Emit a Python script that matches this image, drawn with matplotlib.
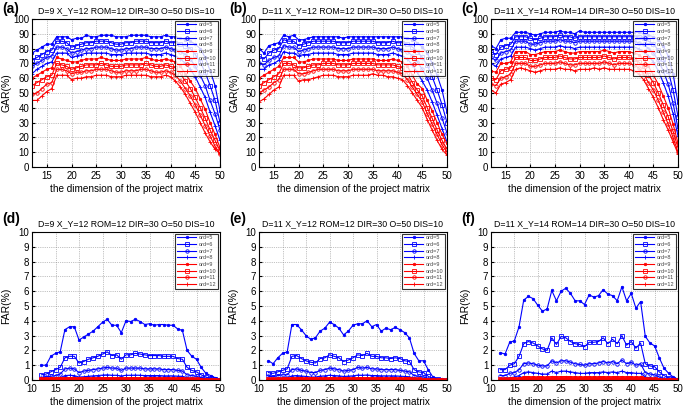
import numpy as np
import matplotlib
matplotlib.use("Agg")
import matplotlib.pyplot as plt

plt.rcParams["font.family"] = ["Liberation Sans", "DejaVu Sans"]

# x positions: dimension of the project matrix
dims = list(range(12, 51))
ords = ["ord=5", "ord=6", "ord=7", "ord=8", "ord=9", "ord=10", "ord=11", "ord=12"]

titles = [
    "D=9 X_Y=12 ROM=12 DIR=30 O=50 DIS=10",
    "D=11 X_Y=12 ROM=12 DIR=30 O=50 DIS=10",
    "D=11 X_Y=14 ROM=14 DIR=30 O=50 DIS=10",
]
panel_tags = ["(a)", "(b)", "(c)", "(d)", "(e)", "(f)"]

# ---- GAR (%) values, one list per ord ----
gar_a = [
    [77, 79, 81, 83, 83, 88, 88, 88, 86, 87, 87, 89, 88, 88, 89, 89, 89, 88, 88, 88, 89, 89, 89, 89, 88, 88, 88, 89, 88, 88, 87, 86, 85, 83, 80, 74, 65, 55, 38],
    [72, 74, 76, 78, 79, 85, 85, 84, 81, 82, 83, 84, 84, 85, 85, 85, 84, 83, 83, 84, 84, 85, 85, 85, 84, 84, 84, 85, 84, 84, 83, 82, 80, 76, 71, 64, 55, 45, 30],
    [68, 70, 72, 74, 75, 81, 81, 80, 77, 78, 79, 80, 80, 81, 81, 81, 80, 79, 79, 80, 80, 81, 81, 81, 80, 80, 80, 81, 80, 79, 78, 76, 73, 68, 62, 55, 45, 36, 25],
    [63, 66, 68, 70, 71, 77, 77, 77, 74, 75, 76, 77, 77, 77, 77, 77, 76, 76, 76, 77, 77, 77, 77, 77, 76, 76, 76, 77, 76, 75, 73, 70, 66, 61, 54, 47, 37, 28, 18],
    [60, 62, 64, 66, 67, 74, 73, 72, 71, 71, 72, 73, 73, 73, 74, 73, 72, 72, 72, 73, 73, 73, 73, 74, 73, 72, 72, 73, 72, 71, 68, 63, 58, 53, 46, 39, 30, 22, 13],
    [55, 57, 59, 61, 62, 70, 69, 68, 66, 67, 68, 69, 69, 69, 70, 69, 68, 68, 68, 69, 69, 69, 69, 70, 69, 68, 68, 69, 68, 67, 63, 58, 53, 47, 40, 33, 25, 18, 11],
    [49, 50, 53, 56, 57, 66, 66, 65, 63, 64, 64, 65, 65, 66, 66, 66, 65, 64, 64, 65, 65, 65, 66, 66, 65, 64, 64, 65, 64, 62, 58, 53, 48, 42, 35, 28, 21, 14, 9],
    [45, 45, 48, 51, 53, 62, 62, 62, 59, 60, 60, 61, 61, 62, 62, 62, 61, 61, 61, 62, 62, 62, 62, 62, 61, 61, 61, 62, 61, 58, 54, 49, 43, 37, 30, 23, 17, 12, 9],
]
gar_b = [
    [80, 77, 82, 83, 84, 89, 88, 89, 86, 86, 87, 88, 88, 88, 88, 88, 88, 87, 88, 88, 88, 88, 88, 88, 88, 88, 88, 88, 88, 88, 87, 86, 84, 81, 77, 70, 62, 52, 37],
    [75, 73, 77, 79, 80, 86, 85, 85, 82, 83, 84, 85, 85, 85, 85, 85, 84, 84, 84, 85, 85, 85, 85, 85, 84, 84, 84, 85, 84, 84, 83, 81, 78, 74, 69, 61, 52, 42, 30],
    [70, 69, 72, 74, 75, 82, 81, 81, 78, 79, 80, 81, 81, 81, 81, 81, 80, 80, 80, 81, 81, 81, 81, 81, 80, 80, 80, 81, 80, 79, 78, 75, 71, 66, 60, 52, 43, 33, 23],
    [66, 66, 69, 70, 72, 78, 77, 77, 75, 76, 76, 77, 77, 77, 77, 77, 76, 76, 76, 77, 77, 77, 77, 77, 76, 76, 76, 77, 76, 75, 73, 69, 64, 58, 52, 44, 35, 26, 17],
    [60, 62, 64, 66, 68, 74, 74, 74, 71, 71, 72, 73, 73, 73, 73, 73, 72, 72, 72, 73, 73, 73, 73, 73, 72, 72, 72, 73, 72, 71, 68, 62, 56, 53, 45, 38, 30, 22, 16],
    [55, 57, 59, 61, 63, 70, 70, 69, 67, 67, 68, 69, 69, 70, 70, 70, 69, 69, 69, 70, 70, 70, 70, 70, 69, 69, 69, 69, 68, 67, 63, 57, 52, 48, 40, 33, 25, 18, 12],
    [50, 52, 54, 57, 59, 66, 66, 66, 63, 63, 64, 65, 66, 66, 66, 66, 65, 65, 65, 66, 66, 66, 66, 66, 65, 65, 65, 65, 64, 63, 59, 54, 49, 44, 36, 29, 22, 15, 10],
    [44, 46, 49, 52, 54, 62, 62, 62, 58, 59, 59, 60, 61, 62, 62, 62, 61, 61, 61, 62, 62, 62, 62, 63, 62, 62, 61, 61, 60, 59, 55, 50, 45, 40, 32, 25, 18, 12, 8],
]
gar_c = [
    [82, 80, 86, 87, 87, 91, 91, 91, 90, 89, 90, 91, 91, 91, 92, 91, 91, 90, 92, 91, 91, 91, 91, 91, 91, 91, 91, 91, 91, 91, 91, 90, 89, 88, 86, 82, 75, 63, 43],
    [78, 76, 81, 82, 83, 88, 88, 88, 87, 86, 87, 88, 88, 88, 89, 88, 88, 87, 88, 88, 88, 88, 88, 88, 88, 88, 88, 88, 88, 88, 88, 87, 85, 83, 79, 73, 65, 52, 34],
    [74, 72, 77, 78, 79, 85, 85, 85, 83, 83, 84, 85, 85, 85, 86, 85, 85, 84, 85, 85, 85, 85, 85, 85, 85, 85, 85, 85, 85, 85, 84, 83, 80, 77, 72, 65, 56, 43, 26],
    [70, 68, 73, 74, 75, 81, 81, 81, 80, 79, 80, 81, 81, 81, 82, 81, 81, 80, 81, 81, 81, 81, 81, 81, 81, 81, 81, 81, 81, 81, 80, 78, 75, 71, 65, 57, 48, 36, 21],
    [65, 64, 70, 70, 71, 78, 78, 78, 76, 76, 77, 78, 78, 78, 79, 78, 77, 77, 78, 78, 78, 78, 78, 79, 78, 77, 78, 78, 78, 77, 76, 73, 68, 62, 56, 48, 40, 29, 16],
    [60, 59, 65, 66, 67, 74, 74, 74, 72, 72, 73, 74, 74, 74, 75, 74, 73, 73, 74, 74, 74, 74, 74, 75, 74, 73, 74, 74, 74, 73, 71, 68, 62, 57, 50, 42, 34, 24, 13],
    [56, 55, 60, 61, 63, 70, 70, 70, 68, 68, 69, 70, 70, 70, 71, 70, 69, 69, 70, 70, 70, 70, 70, 71, 70, 69, 70, 70, 70, 69, 67, 63, 57, 52, 45, 37, 29, 20, 10],
    [52, 50, 56, 57, 59, 66, 67, 66, 65, 64, 65, 66, 66, 66, 67, 66, 66, 65, 66, 66, 66, 67, 66, 67, 66, 66, 66, 66, 66, 65, 63, 59, 53, 47, 40, 32, 25, 17, 9],
]

# ---- FAR (%) values, one list per ord ----
far_d = [
    [1.0, 1.0, 1.6, 1.8, 1.9, 3.4, 3.6, 3.6, 2.7, 2.9, 3.1, 3.3, 3.6, 3.9, 4.1, 3.7, 3.7, 3.2, 4.0, 3.95, 4.1, 3.95, 3.75, 3.8, 3.7, 3.75, 3.75, 3.7, 3.7, 3.45, 3.35, 2.0, 1.6, 1.4, 0.85, 0.45, 0.3, 0.15, 0.05],
    [0.35, 0.4, 0.55, 0.7, 0.85, 1.5, 1.6, 1.6, 1.15, 1.25, 1.4, 1.5, 1.6, 1.75, 1.9, 1.65, 1.7, 1.4, 1.7, 1.7, 1.8, 1.75, 1.7, 1.65, 1.65, 1.65, 1.6, 1.6, 1.6, 1.45, 1.4, 0.85, 0.65, 0.55, 0.35, 0.2, 0.12, 0.07, 0.02],
    [0.15, 0.2, 0.25, 0.3, 0.4, 0.75, 0.8, 0.75, 0.5, 0.6, 0.65, 0.7, 0.75, 0.8, 0.85, 0.8, 0.8, 0.65, 0.8, 0.8, 0.8, 0.8, 0.75, 0.75, 0.75, 0.75, 0.7, 0.7, 0.7, 0.65, 0.6, 0.35, 0.3, 0.25, 0.15, 0.1, 0.05, 0.03, 0.01],
    [0.07, 0.08, 0.1, 0.12, 0.15, 0.3, 0.32, 0.3, 0.2, 0.22, 0.25, 0.28, 0.3, 0.33, 0.35, 0.32, 0.32, 0.27, 0.32, 0.32, 0.33, 0.32, 0.3, 0.3, 0.3, 0.3, 0.28, 0.28, 0.28, 0.26, 0.25, 0.14, 0.12, 0.1, 0.06, 0.04, 0.02, 0.01, 0.0],
    [0.1, 0.1, 0.11, 0.12, 0.13, 0.16, 0.16, 0.16, 0.13, 0.14, 0.14, 0.15, 0.15, 0.16, 0.16, 0.15, 0.15, 0.14, 0.15, 0.15, 0.16, 0.15, 0.15, 0.15, 0.15, 0.15, 0.14, 0.14, 0.14, 0.13, 0.13, 0.08, 0.07, 0.06, 0.04, 0.03, 0.02, 0.01, 0.0],
    [0.06, 0.06, 0.07, 0.07, 0.08, 0.1, 0.1, 0.1, 0.08, 0.09, 0.09, 0.09, 0.1, 0.1, 0.1, 0.1, 0.1, 0.09, 0.1, 0.1, 0.1, 0.1, 0.09, 0.09, 0.09, 0.09, 0.09, 0.09, 0.09, 0.08, 0.08, 0.05, 0.04, 0.04, 0.03, 0.02, 0.01, 0.01, 0.0],
    [0.04, 0.04, 0.04, 0.05, 0.05, 0.07, 0.07, 0.07, 0.05, 0.06, 0.06, 0.06, 0.06, 0.07, 0.07, 0.06, 0.06, 0.06, 0.06, 0.06, 0.07, 0.06, 0.06, 0.06, 0.06, 0.06, 0.06, 0.06, 0.06, 0.05, 0.05, 0.03, 0.03, 0.02, 0.02, 0.01, 0.01, 0.0, 0.0],
    [0.02, 0.02, 0.03, 0.03, 0.03, 0.04, 0.04, 0.04, 0.03, 0.03, 0.03, 0.04, 0.04, 0.04, 0.04, 0.04, 0.04, 0.03, 0.04, 0.04, 0.04, 0.04, 0.04, 0.04, 0.04, 0.04, 0.03, 0.03, 0.03, 0.03, 0.03, 0.02, 0.02, 0.01, 0.01, 0.01, 0.0, 0.0, 0.0],
]
far_e = [
    [1.3, 1.1, 1.5, 1.8, 1.9, 3.75, 3.75, 3.4, 3.0, 2.75, 2.85, 3.3, 3.5, 3.9, 3.75, 3.5, 3.05, 3.3, 3.7, 3.8, 3.8, 4.0, 3.6, 3.75, 3.3, 3.5, 3.4, 3.55, 3.4, 3.2, 2.85, 1.8, 1.3, 1.3, 0.7, 0.2, 0.1, 0.05, 0.02],
    [0.5, 0.45, 0.55, 0.65, 0.75, 1.6, 1.65, 1.45, 1.3, 1.2, 1.15, 1.45, 1.5, 1.7, 1.6, 1.5, 1.25, 1.35, 1.5, 1.7, 1.65, 1.8, 1.6, 1.6, 1.5, 1.5, 1.45, 1.5, 1.45, 1.3, 1.25, 0.7, 0.55, 0.5, 0.25, 0.1, 0.05, 0.02, 0.01],
    [0.25, 0.22, 0.3, 0.35, 0.35, 0.7, 0.75, 0.65, 0.6, 0.5, 0.5, 0.65, 0.7, 0.8, 0.75, 0.7, 0.6, 0.65, 0.7, 0.85, 0.8, 0.85, 0.75, 0.75, 0.7, 0.7, 0.7, 0.7, 0.65, 0.6, 0.55, 0.3, 0.25, 0.2, 0.1, 0.05, 0.02, 0.01, 0.0],
    [0.1, 0.09, 0.12, 0.14, 0.15, 0.28, 0.3, 0.27, 0.24, 0.2, 0.2, 0.26, 0.28, 0.32, 0.3, 0.28, 0.24, 0.26, 0.28, 0.33, 0.32, 0.34, 0.3, 0.3, 0.28, 0.28, 0.28, 0.28, 0.26, 0.24, 0.22, 0.12, 0.1, 0.08, 0.04, 0.02, 0.01, 0.0, 0.0],
    [0.08, 0.07, 0.09, 0.1, 0.1, 0.14, 0.15, 0.14, 0.13, 0.12, 0.12, 0.13, 0.14, 0.15, 0.15, 0.14, 0.13, 0.13, 0.14, 0.15, 0.15, 0.15, 0.14, 0.14, 0.14, 0.14, 0.14, 0.14, 0.13, 0.12, 0.12, 0.07, 0.06, 0.05, 0.03, 0.02, 0.01, 0.0, 0.0],
    [0.05, 0.05, 0.06, 0.06, 0.07, 0.09, 0.1, 0.09, 0.08, 0.08, 0.08, 0.09, 0.09, 0.1, 0.1, 0.09, 0.08, 0.09, 0.09, 0.1, 0.1, 0.1, 0.09, 0.09, 0.09, 0.09, 0.09, 0.09, 0.08, 0.08, 0.07, 0.04, 0.04, 0.03, 0.02, 0.01, 0.01, 0.0, 0.0],
    [0.03, 0.03, 0.04, 0.04, 0.04, 0.06, 0.06, 0.06, 0.05, 0.05, 0.05, 0.06, 0.06, 0.06, 0.06, 0.06, 0.05, 0.05, 0.06, 0.06, 0.06, 0.06, 0.06, 0.06, 0.05, 0.05, 0.05, 0.05, 0.05, 0.05, 0.04, 0.03, 0.02, 0.02, 0.01, 0.01, 0.0, 0.0, 0.0],
    [0.02, 0.02, 0.02, 0.02, 0.03, 0.04, 0.04, 0.04, 0.03, 0.03, 0.03, 0.03, 0.04, 0.04, 0.04, 0.04, 0.03, 0.03, 0.04, 0.04, 0.04, 0.04, 0.04, 0.04, 0.03, 0.03, 0.03, 0.03, 0.03, 0.03, 0.03, 0.02, 0.01, 0.01, 0.01, 0.0, 0.0, 0.0, 0.0],
]
far_f = [
    [1.85, 1.75, 2.55, 2.65, 3.6, 5.4, 5.65, 5.5, 5.05, 4.65, 4.8, 6.05, 5.35, 6.0, 6.2, 5.85, 5.35, 5.35, 5.1, 5.75, 5.6, 5.7, 6.1, 5.8, 5.7, 5.35, 6.3, 5.35, 5.85, 4.85, 5.3, 2.95, 2.5, 2.3, 1.5, 0.8, 0.45, 0.2, 0.05],
    [0.7, 0.7, 1.0, 1.1, 1.6, 2.45, 2.6, 2.5, 2.3, 2.1, 2.0, 2.85, 2.4, 2.95, 2.85, 2.6, 2.45, 2.4, 2.25, 2.55, 2.55, 2.6, 2.85, 2.45, 2.75, 2.45, 3.0, 2.35, 2.6, 2.15, 2.5, 1.1, 0.95, 0.9, 0.55, 0.3, 0.15, 0.07, 0.02],
    [0.3, 0.3, 0.45, 0.5, 0.7, 1.1, 1.15, 1.1, 1.0, 0.95, 0.95, 1.3, 1.15, 1.3, 1.3, 1.2, 1.1, 1.05, 1.0, 1.1, 1.1, 1.15, 1.25, 1.15, 1.25, 1.1, 1.35, 1.1, 1.2, 1.0, 1.1, 0.5, 0.4, 0.35, 0.2, 0.1, 0.05, 0.02, 0.01],
    [0.1, 0.1, 0.15, 0.2, 0.3, 0.5, 0.55, 0.5, 0.45, 0.4, 0.4, 0.6, 0.5, 0.6, 0.6, 0.55, 0.5, 0.45, 0.45, 0.5, 0.5, 0.5, 0.55, 0.5, 0.55, 0.5, 0.6, 0.5, 0.5, 0.45, 0.45, 0.2, 0.15, 0.12, 0.07, 0.04, 0.02, 0.01, 0.0],
    [0.08, 0.08, 0.1, 0.11, 0.13, 0.2, 0.21, 0.2, 0.18, 0.17, 0.17, 0.23, 0.2, 0.23, 0.23, 0.21, 0.2, 0.19, 0.18, 0.2, 0.2, 0.2, 0.22, 0.2, 0.21, 0.2, 0.23, 0.2, 0.2, 0.18, 0.19, 0.09, 0.07, 0.06, 0.04, 0.02, 0.01, 0.01, 0.0],
    [0.05, 0.05, 0.06, 0.07, 0.08, 0.13, 0.13, 0.13, 0.12, 0.11, 0.11, 0.14, 0.12, 0.14, 0.14, 0.13, 0.12, 0.12, 0.11, 0.12, 0.12, 0.13, 0.14, 0.12, 0.13, 0.12, 0.14, 0.12, 0.12, 0.11, 0.12, 0.06, 0.05, 0.04, 0.02, 0.01, 0.01, 0.0, 0.0],
    [0.03, 0.03, 0.04, 0.04, 0.05, 0.08, 0.08, 0.08, 0.07, 0.07, 0.07, 0.09, 0.08, 0.09, 0.09, 0.08, 0.08, 0.07, 0.07, 0.08, 0.08, 0.08, 0.09, 0.08, 0.08, 0.08, 0.09, 0.08, 0.08, 0.07, 0.07, 0.04, 0.03, 0.02, 0.01, 0.01, 0.0, 0.0, 0.0],
    [0.02, 0.02, 0.02, 0.03, 0.03, 0.05, 0.05, 0.05, 0.04, 0.04, 0.04, 0.05, 0.05, 0.05, 0.05, 0.05, 0.05, 0.04, 0.04, 0.05, 0.05, 0.05, 0.05, 0.05, 0.05, 0.05, 0.05, 0.05, 0.05, 0.04, 0.04, 0.02, 0.02, 0.01, 0.01, 0.0, 0.0, 0.0, 0.0],
]

# style per ord
colors = ["#0000ff"] * 4 + ["#ff0000"] * 4
markers = [".", "s", "o", "+", ".", "s", "o", "+"]

W, H = 685, 409
fig = plt.figure(figsize=(W / 100, H / 100), dpi=100)

lefts = [32, 259, 491]
widths = [188, 188, 187]
top_row = (19, 167)
bot_row = (232, 380)

panels = [gar_a, gar_b, gar_c, far_d, far_e, far_f]

for i, data in enumerate(panels):
    col = i % 3
    row = i // 3
    y0, y1 = top_row if row == 0 else bot_row
    ax = fig.add_axes([lefts[col] / W, 1 - y1 / H, widths[col] / W, (y1 - y0) / H])

    for k in range(8):
        m = markers[k]
        face = colors[k] if m == "." else "none"
        ax.plot(dims, data[k], color=colors[k], marker=m, markersize=2.5 if m != "." else 3.5,
                markerfacecolor=face, markeredgewidth=0.6, linewidth=0.8, label=ords[k])

    if row == 0:
        ax.set_xlim(12, 50)
        ax.set_xticks([15, 20, 25, 30, 35, 40, 45, 50])
        ax.set_ylim(0, 100)
        ax.set_yticks(range(0, 101, 10))
        ax.set_ylabel("GAR(%)", fontsize=7.5)
        ax.yaxis.set_label_coords(-20 / widths[col], 0.5)
    else:
        ax.set_xlim(10, 50)
        ax.set_xticks(range(10, 51, 5))
        ax.set_ylim(0, 10)
        ax.set_yticks(range(0, 11))
        ax.set_ylabel("FAR(%)", fontsize=7.5)
        ax.yaxis.set_label_coords(-21 / widths[col], 0.5)

    ax.set_xlabel("the dimension of the project matrix", fontsize=7.2, labelpad=2)
    ax.set_title(titles[col], fontsize=6.3, pad=4)
    ax.tick_params(labelsize=7, direction="in", length=2, pad=2)
    ax.tick_params(axis="x", pad=3)
    ax.grid(True, linestyle=":", color="#888888", linewidth=0.5)
    for s in ax.spines.values():
        s.set_linewidth(0.8)

    leg = ax.legend(loc="upper right", fontsize=4, frameon=True, fancybox=False,
                    edgecolor="black", handlelength=3.5, borderpad=0.3,
                    labelspacing=0.3, handletextpad=0.5, borderaxespad=0.3)
    leg.get_frame().set_linewidth(0.8)
    for t in leg.get_texts():
        t.set_color("#444444")

    tag_y = 9 if row == 0 else 219
    fig.text((lefts[col] - 30) / W, 1 - tag_y / H, panel_tags[i],
             fontsize=10, fontweight="bold", va="center", ha="left")

fig.savefig("out.png", dpi=100)
